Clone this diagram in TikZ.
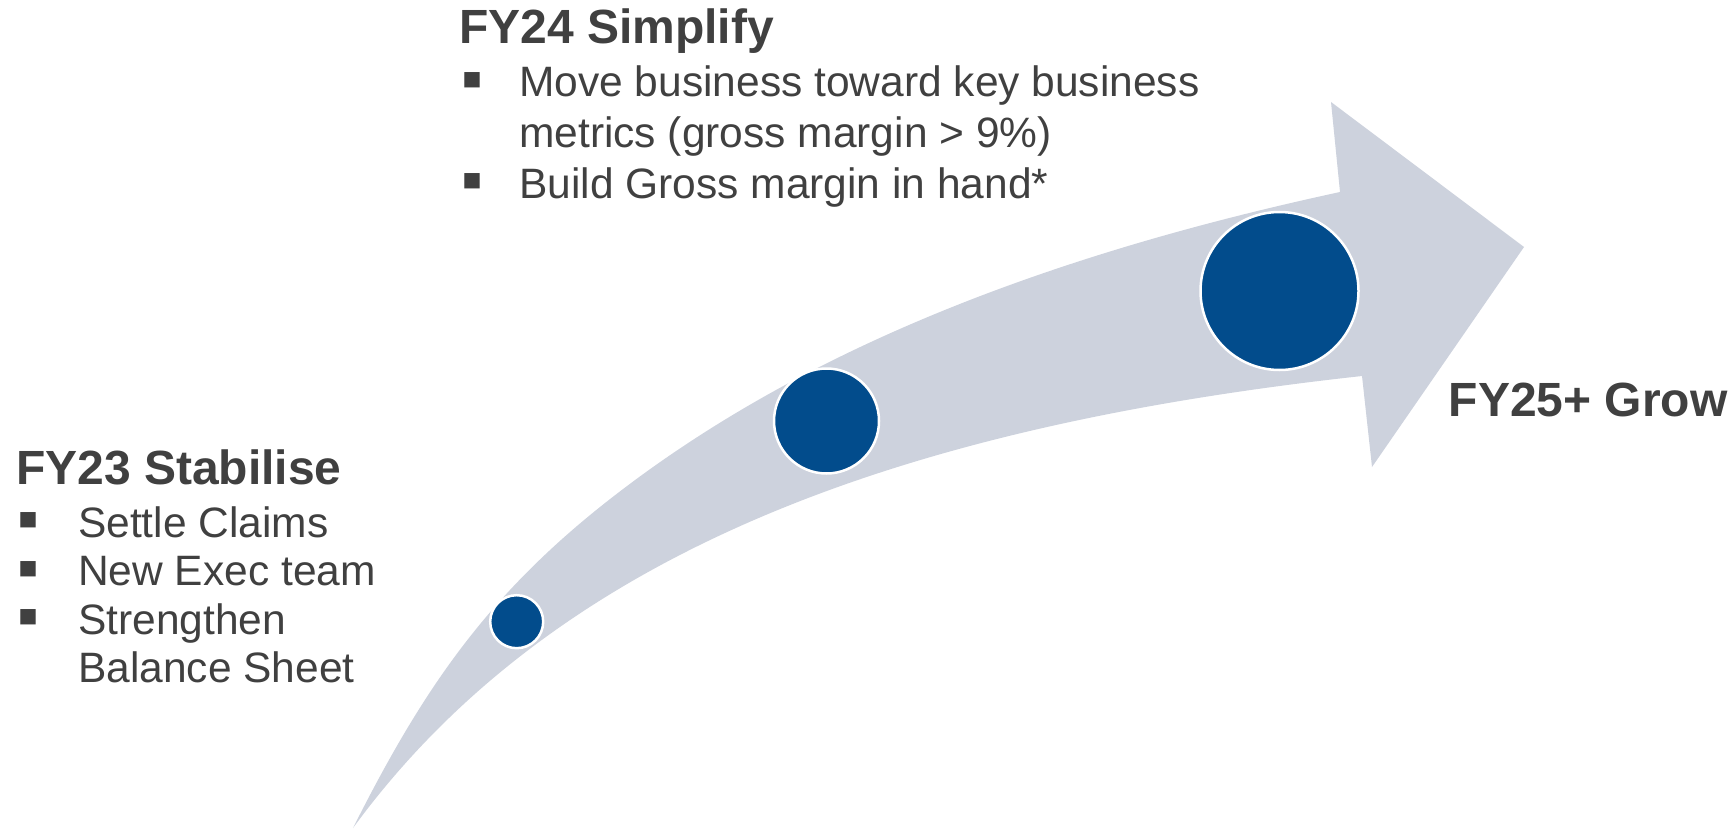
\documentclass[tikz,border=0pt]{standalone}
\usepackage{fontspec}
\setmainfont{Liberation Sans}
\definecolor{txt}{HTML}{404040}
\definecolor{band}{HTML}{CDD2DD}
\definecolor{dot}{HTML}{024C8C}
\begin{document}
\begin{tikzpicture}[x=1pt,y=-1pt,
  phase/.style={anchor=base west, inner sep=0, text=txt,
    font=\fontsize{48}{56}\selectfont\bfseries},
  item/.style={anchor=base west, inner sep=0, text=txt,
    font=\fontsize{42.5}{50}\selectfont},
  bulletsign/.style={anchor=base west, inner sep=0, text=txt,
    text height=28pt, text depth=0pt,
    font=\fontsize{62}{62}\selectfont},
  milestone/.style={circle, fill=dot, draw=white, line width=2.5pt, inner sep=0}
]
\useasboundingbox (0,0) rectangle (1731,829);

% curved arrow band
\fill[band] (353,828) .. controls (420.5,694) and (482.9,600.8) .. (600,507)
  .. controls (795,351) and (1047,255.3) .. (1340,192)
  -- (1331,102) -- (1524,247) -- (1372,467) -- (1362,376)
  .. controls (915,425) and (560,545) .. (353,828) -- cycle;

% milestones along the band
\node[milestone, minimum size=53pt]  (m1) at (516.7,621.7) {};
\node[milestone, minimum size=105pt] (m2) at (826.5,421) {};
\node[milestone, minimum size=158pt] (m3) at (1279.5,291) {};

% FY23 block
\node[phase] (h1) at (16,484) {FY23 Stabilise};
\node[bulletsign] (b11) at (17,539.5) {▪};
\node[item] (t11) at (78,537) {Settle Claims};
\node[bulletsign] (b12) at (17,588) {▪};
\node[item] (t12) at (78,585.5) {New Exec team};
\node[bulletsign] (b13) at (17,636.5) {▪};
\node[item] (t13) at (78,634) {Strengthen};
\node[item] (t14) at (78,682.5) {Balance Sheet};

% FY24 block
\node[phase] (h2) at (459,44) {FY24 Simplify};
\node[bulletsign] (b21) at (461,99.5) {▪};
\node[item] (t21) at (519,97) {Move business toward key business};
\node[item] (t22) at (519,147.5) {metrics (gross margin > 9\%)};
\node[bulletsign] (b23) at (461,200.5) {▪};
\node[item] (t23) at (519,198) {Build Gross margin in hand*};

% FY25+ label
\node[phase] (h3) at (1448.5,416) {FY25+ Grow};
\end{tikzpicture}
\end{document}
